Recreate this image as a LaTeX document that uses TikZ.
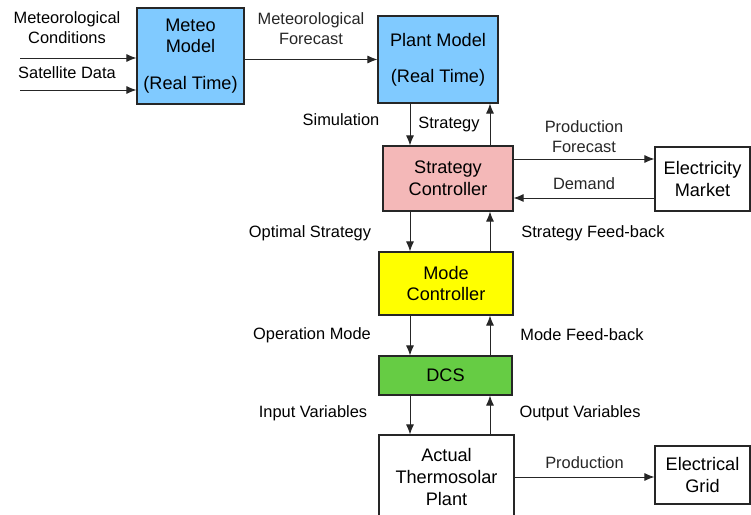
\documentclass[tikz,border=0pt]{standalone}
\usepackage{fontspec}
\setmainfont{Liberation Sans}
\usetikzlibrary{arrows.meta}
\definecolor{meteoblue}{RGB}{128,202,255}
\definecolor{stratpink}{RGB}{244,184,184}
\definecolor{modeyellow}{RGB}{255,255,0}
\definecolor{dcsgreen}{RGB}{102,204,68}
\begin{document}
\begin{tikzpicture}[x=0.03cm,y=-0.03cm,
  font=\fontsize{14}{17}\selectfont,
  block/.style={draw=black!85,line width=1pt,align=center,inner sep=0pt,font=\fontsize{15.5}{18.5}\selectfont},
  lbl/.style={inner sep=0pt,align=center},
  arr/.style={-{Latex[length=8.5pt,width=6.8pt]},line width=0.8pt,black!85}]
\useasboundingbox (0,0) rectangle (751,515);
% blocks
\node[block,fill=meteoblue,minimum width=3.21cm,minimum height=2.88cm] (meteo) at (190.5,56) {Meteo\\Model\\[13pt](Real Time)};
\node[block,fill=meteoblue,minimum width=3.6cm,minimum height=2.61cm] (plant) at (438,59.5) {Plant Model\\[12pt](Real Time)};
\node[block,fill=stratpink,minimum width=3.9cm,minimum height=1.95cm] (strat) at (448,178.5) {Strategy\\Controller};
\node[block,minimum width=2.85cm,minimum height=1.92cm] (market) at (702.5,179) {Electricity\\Market};
\node[block,fill=modeyellow,minimum width=4.02cm,minimum height=1.89cm] (mode) at (446,283.5) {Mode\\Controller};
\node[block,fill=dcsgreen,minimum width=3.99cm,minimum height=1.17cm] (dcs) at (445.5,375.5) {DCS};
\node[block,minimum width=4.05cm,minimum height=2.52cm] (actual) at (446.5,477) {Actual\\Thermosolar\\Plant};
\node[block,minimum width=2.85cm,minimum height=1.74cm] (grid) at (702.5,475) {Electrical\\Grid};
% free ends and arrow columns
\coordinate (inmet) at (20,58);
\coordinate (insat) at (20,90);
\coordinate (dn) at (410,0);
\coordinate (up) at (490,0);
\coordinate (pf) at (0,159);
\coordinate (dem) at (0,198);
% labels
\node[lbl] (lmet) at (67,28) {Meteorological\\Conditions};
\node[lbl] (lsat) at (67,73) {Satellite Data};
\node[lbl] (lsim) at (341,120) {Simulation};
\node[lbl] (lstr) at (449,124) {Strategy};
\node[lbl] (lopt) at (310,233) {Optimal Strategy};
\node[lbl] (lsfb) at (593,233) {Strategy Feed-back};
\node[lbl] (lop) at (312,335) {Operation Mode};
\node[lbl] (lmfb) at (582,335) {Mode Feed-back};
\node[lbl] (lin) at (313,413) {Input Variables};
\node[lbl] (lout) at (580,413) {Output Variables};
% connectors
\draw[arr] (inmet) -- (meteo.west |- inmet);
\draw[arr] (insat) -- (meteo.west |- insat);
\draw[arr] (meteo.east |- plant.west) -- (plant.west) node[lbl,midway,above=12pt] {Meteorological\\Forecast};
\draw[arr] (plant.south -| dn) -- (strat.north -| dn);
\draw[arr] (strat.north -| up) -- (plant.south -| up);
\draw[arr] (strat.east |- pf) -- (market.west |- pf) node[lbl,midway,above=5pt] {Production\\Forecast};
\draw[arr] (market.west |- dem) -- (strat.east |- dem) node[lbl,midway,above=7pt] {Demand};
\draw[arr] (strat.south -| dn) -- (mode.north -| dn);
\draw[arr] (mode.north -| up) -- (strat.south -| up);
\draw[arr] (mode.south -| dn) -- (dcs.north -| dn);
\draw[arr] (dcs.north -| up) -- (mode.south -| up);
\draw[arr] (dcs.south -| dn) -- (actual.north -| dn);
\draw[arr] (actual.north -| up) -- (dcs.south -| up);
\draw[arr] (actual.east) -- (grid.west |- actual.east) node[lbl,midway,above=7pt] {Production};
\end{tikzpicture}
\end{document}
